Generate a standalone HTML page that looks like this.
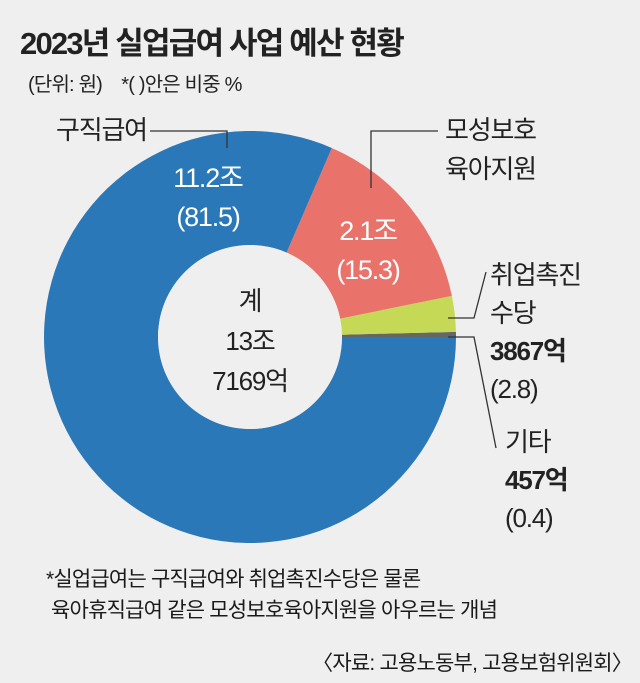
<!DOCTYPE html>
<html><head><meta charset="utf-8"><style>
html,body{margin:0;padding:0;background:#efefef;}
body{width:640px;height:683px;position:relative;overflow:hidden;font-family:"Liberation Sans","Noto Sans CJK KR",sans-serif;color:#222;}
.t{position:absolute;white-space:nowrap;}
</style></head><body>
<div class="t" style="left:20px;top:18px;font-size:31px;font-weight:bold;letter-spacing:-1.8px;">2023년 실업급여 사업 예산 현황</div>
<div class="t" style="left:28px;top:68px;font-size:20px;letter-spacing:-0.8px;">(단위: 원)　*( )안은 비중 %</div>
<svg id="chart" width="640" height="683" style="position:absolute;left:0;top:0;font-family:'Liberation Sans','Noto Sans CJK KR',sans-serif;"></svg>
<div class="t" style="left:46px;top:564px;font-size:21px;line-height:31px;letter-spacing:-0.8px;color:#1a1a1a;">*실업급여는 구직급여와 취업촉진수당은 물론<br>&nbsp;육아휴직급여 같은 모성보호육아지원을 아우르는 개념</div>
<div class="t" style="right:8px;top:647px;font-size:21px;letter-spacing:-0.8px;color:#1a1a1a;">〈자료: 고용노동부, 고용보험위원회〉</div>
<script>
const categories=["기타","취업촉진수당","모성보호육아지원","구직급여"];
const shares=[0.4,2.8,15.3,81.5];
const colors=["#666666","#c6d957","#e9736a","#2b78b8"];
const cx=250,cy=337,R=206,r=92;
const svg=document.getElementById('chart');
const NS="http://www.w3.org/2000/svg";
const total=shares.reduce((a,b)=>a+b,0);
function pt(rad,a){return [cx+rad*Math.cos(a),cy-rad*Math.sin(a)];}
let acc=0;
shares.forEach((v,i)=>{
  const a0=acc/total*2*Math.PI;acc+=v;const a1=acc/total*2*Math.PI;
  const large=(a1-a0)>Math.PI?1:0;
  const p0=pt(R,a0),p1=pt(R,a1),q1=pt(r,a1),q0=pt(r,a0);
  const d=`M${p0[0]},${p0[1]} A${R},${R} 0 ${large} 0 ${p1[0]},${p1[1]} L${q1[0]},${q1[1]} A${r},${r} 0 ${large} 1 ${q0[0]},${q0[1]} Z`;
  const p=document.createElementNS(NS,'path');
  p.setAttribute('d',d);p.setAttribute('fill',colors[i]);
  
  
  svg.appendChild(p);
});
const c=document.createElementNS(NS,'circle');
c.setAttribute('cx',cx);c.setAttribute('cy',cy);c.setAttribute('r',r);c.setAttribute('fill','#efefef');


svg.appendChild(c);
function txt(x,y,s,size,fill,anchor,name,bold){
  const t=document.createElementNS(NS,'text');
  t.setAttribute('x',x);t.setAttribute('y',y);t.setAttribute('font-size',size);
  t.setAttribute('fill',fill);t.setAttribute('text-anchor',anchor||'start');
  t.setAttribute('letter-spacing','-1.2');
  if(bold)t.setAttribute('font-weight','bold');
  t.textContent=s;
  
  
  svg.appendChild(t);
}
function line(pts,name){
  const l=document.createElementNS(NS,'polyline');
  l.setAttribute('points',pts);l.setAttribute('fill','none');l.setAttribute('stroke','#333');l.setAttribute('stroke-width','1.3');
  
  
  svg.appendChild(l);
}
txt(250,310,"계",26,"#222","middle","center-label");
txt(250,350,"13조",26,"#222","middle","center-total-1");
txt(250,390,"7169억",26,"#222","middle","center-total-2");
txt(208,187,"11.2조",27,"#fff","middle","value-job-seeking");
txt(208,226,"(81.5)",27,"#fff","middle","share-job-seeking");
txt(368,240,"2.1조",27,"#fff","middle","value-maternity");
txt(368,279,"(15.3)",27,"#fff","middle","share-maternity");
txt(56,139,"구직급여",26,"#222","start","label-job-seeking");
line("150,131 227,131 227,148","leader-job-seeking");
txt(445,139,"모성보호",26,"#222","start","label-maternity-1");
txt(445,178,"육아지원",26,"#222","start","label-maternity-2");
line("438,131 371,131 371,188","leader-maternity");
txt(490,284,"취업촉진",26,"#222","start","label-promotion-1");
txt(490,322,"수당",26,"#222","start","label-promotion-2");
txt(490,360,"3867억",26,"#222","start","value-promotion",true);
txt(490,398,"(2.8)",26,"#222","start","share-promotion");
line("448,318 474,318 486,272","leader-promotion");
txt(505,451,"기타",26,"#222","start","label-other");
txt(505,489,"457억",26,"#222","start","value-other",true);
txt(505,527,"(0.4)",26,"#222","start","share-other");
line("448,337 474,337 496,448","leader-other");
</script>
</body></html>
